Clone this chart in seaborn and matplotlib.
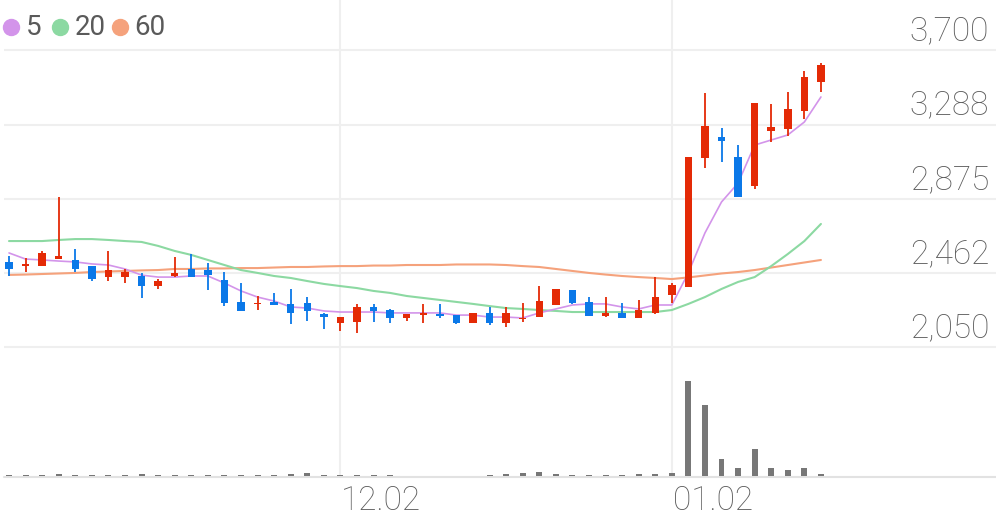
import numpy as np
import pandas as pd
import matplotlib
matplotlib.use('Agg')
import matplotlib.pyplot as plt
import seaborn as sns
from matplotlib.lines import Line2D
from matplotlib.transforms import blended_transform_factory

# ---------------- data ----------------
opens = [2525, 2505, 2502, 2541, 2536, 2502, 2441, 2441, 2447, 2391,
         2447, 2486, 2480, 2425, 2303, 2292, 2303, 2292, 2297, 2236,
         2186, 2192, 2275, 2258, 2214, 2230, 2236, 2230, 2186, 2242,
         2186, 2208, 2219, 2286, 2369, 2303, 2225, 2242, 2214, 2242,
         2341, 2386, 3102, 3219, 3108, 2947, 3252, 3263, 3363, 3524]
closes = [2486, 2508, 2575, 2558, 2486, 2430, 2480, 2469, 2391, 2419,
          2464, 2441, 2452, 2297, 2253, 2297, 2286, 2242, 2253, 2219,
          2219, 2275, 2253, 2214, 2236, 2242, 2225, 2186, 2242, 2186,
          2242, 2214, 2308, 2375, 2297, 2225, 2242, 2214, 2258, 2330,
          2397, 3108, 3280, 3196, 2886, 3407, 3274, 3374, 3552, 3618]
highs = [2558, 2547, 2586, 2886, 2597, 2502, 2586, 2486, 2464, 2430,
         2552, 2569, 2519, 2469, 2408, 2336, 2353, 2375, 2330, 2242,
         2219, 2292, 2292, 2264, 2236, 2292, 2292, 2230, 2242, 2275,
         2275, 2297, 2391, 2375, 2369, 2330, 2330, 2297, 2314, 2441,
         2408, 3108, 3463, 3269, 3174, 3407, 3402, 3469, 3585, 3630]
lows = [2447, 2469, 2502, 2541, 2469, 2419, 2419, 2408, 2325, 2375,
        2441, 2441, 2369, 2280, 2253, 2258, 2286, 2180, 2197, 2153,
        2142, 2131, 2192, 2186, 2197, 2186, 2214, 2180, 2186, 2175,
        2164, 2192, 2219, 2286, 2292, 2225, 2219, 2214, 2214, 2236,
        2297, 2386, 3047, 3080, 2886, 2930, 3191, 3224, 3319, 3469]
ma5 = [2575, 2541, 2536, 2530, 2525, 2514, 2508, 2486, 2452, 2441,
       2441, 2447, 2447, 2408, 2364, 2330, 2308, 2275, 2269, 2253,
       2247, 2247, 2247, 2242, 2242, 2242, 2242, 2230, 2230, 2219,
       2219, 2214, 2242, 2264, 2286, 2292, 2292, 2275, 2264, 2286,
       2286, 2465, 2686, 2858, 2963, 3174, 3202, 3230, 3302, 3441]
ma20 = [2641, 2641, 2641, 2647, 2652, 2652, 2647, 2641, 2636, 2614,
        2586, 2564, 2536, 2508, 2480, 2464, 2447, 2436, 2419, 2403,
        2391, 2380, 2364, 2353, 2336, 2325, 2314, 2303, 2292, 2280,
        2269, 2264, 2258, 2253, 2247, 2247, 2247, 2247, 2247, 2247,
        2258, 2292, 2330, 2375, 2414, 2441, 2502, 2569, 2641, 2736]
ma60 = [2453, 2455, 2458, 2461, 2464, 2469, 2472, 2475, 2478, 2480,
        2486, 2486, 2489, 2489, 2491, 2491, 2494, 2497, 2497, 2500,
        2502, 2502, 2505, 2505, 2508, 2508, 2508, 2511, 2511, 2511,
        2508, 2502, 2497, 2486, 2475, 2464, 2455, 2447, 2441, 2436,
        2430, 2439, 2450, 2461, 2469, 2480, 2494, 2508, 2522, 2536]
volume = [10, 10, 6, 20, 15, 10, 10, 15, 20, 6,
          10, 10, 15, 15, 15, 10, 10, 20, 35, 15,
          15, 10, 10, 10, 5, 4, 4, 4, 5, 10,
          20, 30, 40, 20, 10, 10, 6, 6, 20, 20,
          30, 950, 710, 170, 80, 270, 80, 60, 80, 20]
ytick_values = [2050, 2462, 2875, 3288, 3700]
ytick_labels = ['2,050', '2,462', '2,875', '3,288', '3,700']
xtick_positions = [20, 40]
xtick_labels = ['12.02', '01.02']
legend_labels = ['5', '20', '60']

# ---------------- style ----------------
sns.set_theme(style='white')
plt.rcParams['font.family'] = ['Roboto', 'DejaVu Sans']

RED = '#e42a06'
BLUE = '#0b78e8'
C5 = '#d394ea'
C20 = '#8cd9a2'
C60 = '#f5a27c'
GRID = '#efefef'
TXT = '#5c5c5c'

W, H = 996, 519
fig = plt.figure(figsize=(W / 100, H / 100), dpi=100)
fig.patch.set_facecolor('white')
ax = fig.add_axes([4 / W, 1 - 352 / H, 992 / W, 352 / H])
axv = fig.add_axes([4 / W, 1 - 476 / H, 992 / W, 124 / H], sharex=ax)

n = len(closes)
x = np.arange(n)
df = pd.DataFrame({'idx': x, 'open': opens, 'close': closes, 'high': highs,
                   'low': lows, 'ma5': ma5, 'ma20': ma20, 'ma60': ma60,
                   'volume': volume})

px_per_price = 5.552
ax.set_xlim(-0.302, -0.302 + 992 / 16.57)
ax.set_ylim(2050 - 4.5 * px_per_price, 2050 + 347.5 * px_per_price)

for a in (ax, axv):
    for s in a.spines.values():
        s.set_visible(False)
    a.set_xticks([])
    a.set_yticks([])
    a.set_facecolor('none')

# grid
for v in ytick_values:
    ax.axhline(v, color=GRID, lw=1.5, zorder=0)
for p in xtick_positions:
    ax.axvline(p, color=GRID, lw=1.5, zorder=0)
    axv.axvline(p, color=GRID, lw=1.5, zorder=0)

# moving averages
sns.lineplot(data=df, x='idx', y='ma60', color=C60, lw=1.5, ax=ax, zorder=2)
sns.lineplot(data=df, x='idx', y='ma20', color=C20, lw=1.5, ax=ax, zorder=2)
sns.lineplot(data=df, x='idx', y='ma5', color=C5, lw=1.2, ax=ax, zorder=2)
ax.set_xlabel('')
ax.set_ylabel('')

# candles
o = np.array(opens, float)
c = np.array(closes, float)
cols = [RED if cc >= oo else BLUE for oo, cc in zip(o, c)]
ax.vlines(x, lows, highs, colors=cols, lw=1.3, zorder=3)
minh = 9.0
diff = np.abs(c - o)
hgt = np.maximum(diff, minh)
bot = np.minimum(o, c) - (hgt - diff) / 2
ax.bar(x, hgt, bottom=bot, width=0.45, color=cols, lw=0, zorder=4)

# y labels
tr = blended_transform_factory(ax.transAxes, ax.transData)
for v, lab in zip(ytick_values, ytick_labels):
    ax.annotate(lab, xy=(1, v), xycoords=tr, xytext=(-5.0, 7.2),
                textcoords='offset points', ha='right', va='baseline',
                fontsize=24, color=TXT, fontweight='light')

# volume
vmax = max(volume)
top = vmax * 124 / 95
axv.set_ylim(0, top)
axv.bar(x, volume, width=0.36, color='#777777', lw=0, zorder=3)
axv.axhline(-top / 124 * 1.0, color='#e2e2e2', lw=1.5, zorder=1, clip_on=False)
axv.set_xlabel('')
axv.set_ylabel('')

trv = blended_transform_factory(axv.transData, axv.transAxes)
for p, lab in zip(xtick_positions, xtick_labels):
    axv.text(p + 0.05, (476 - 510) / 124, lab, transform=trv, ha='left',
             va='baseline', fontsize=24, color=TXT, fontweight='light',
             clip_on=False)

# legend
leg_circle_x = [10.5, 60, 120]
leg_text_x = [26, 75, 134]
for cx, tx, col, lab in zip(leg_circle_x, leg_text_x, [C5, C20, C60], legend_labels):
    fig.add_artist(Line2D([cx / W], [1 - 26.5 / H], marker='o', ms=11.5,
                          color=col, mec=col, lw=0, transform=fig.transFigure))
    fig.text(tx / W, 1 - 35 / H, lab, ha='left', va='baseline', fontsize=20,
             color='#5a5a5a')

fig.savefig('out.png', dpi=100, facecolor='white')
